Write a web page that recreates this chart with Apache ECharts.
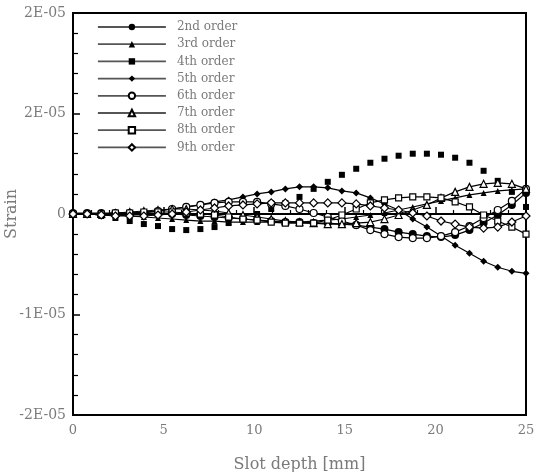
<!DOCTYPE html>
<html>
<head>
<meta charset="utf-8">
<script src="https://cdn.jsdelivr.net/npm/echarts@6/dist/echarts.min.js"></script>
<style>html,body{margin:0;padding:0;background:#fff}#c{width:540px;height:472px}</style>
</head>
<body>
<div id="c"></div>
<script>
// Slot depth [mm]
var depth = [0, 0.78, 1.56, 2.34, 3.13, 3.91, 4.69, 5.47, 6.25, 7.03, 7.81, 8.59, 9.38, 10.16, 10.94, 11.72, 12.5, 13.28, 14.06, 14.84, 15.63, 16.41, 17.19, 17.97, 18.75, 19.53, 20.31, 21.09, 21.88, 22.66, 23.44, 24.22, 25];
// Strain values in units of 1E-05
var order2 = [0.01,0.01,0.01,0.01,0.01,0.01,0.00,0.00,-0.01,-0.02,-0.03,-0.04,-0.05,-0.06,-0.07,-0.08,-0.08,-0.09,-0.09,-0.10,-0.11,-0.13,-0.15,-0.18,-0.20,-0.22,-0.23,-0.21,-0.16,-0.09,-0.01,0.09,0.21];
var order3 = [0,0,-0.01,-0.01,-0.02,-0.03,-0.04,-0.05,-0.06,-0.07,-0.07,-0.08,-0.08,-0.08,-0.08,-0.08,-0.08,-0.07,-0.06,-0.05,-0.03,-0.01,0.01,0.04,0.07,0.10,0.13,0.16,0.19,0.21,0.23,0.24,0.25];
var order4 = [0,-0.01,-0.02,-0.04,-0.07,-0.10,-0.12,-0.15,-0.16,-0.15,-0.13,-0.09,-0.05,0.00,0.05,0.11,0.17,0.25,0.32,0.39,0.45,0.51,0.55,0.58,0.60,0.60,0.59,0.56,0.51,0.43,0.33,0.22,0.07];
var order5 = [0,0,0,0,0.01,0.02,0.03,0.05,0.07,0.09,0.12,0.14,0.17,0.20,0.22,0.25,0.27,0.27,0.26,0.23,0.21,0.16,0.10,0.04,-0.05,-0.13,-0.22,-0.31,-0.39,-0.47,-0.53,-0.57,-0.59];
var order6 = [0,0,-0.01,-0.01,0,0.01,0.03,0.05,0.07,0.09,0.11,0.12,0.12,0.12,0.10,0.08,0.05,0.01,-0.03,-0.07,-0.11,-0.16,-0.20,-0.23,-0.24,-0.24,-0.22,-0.18,-0.12,-0.04,0.04,0.13,0.25];
var order7 = [0,0,0,0.01,0.02,0.03,0.04,0.05,0.05,0.04,0.03,0.01,-0.01,-0.03,-0.05,-0.07,-0.08,-0.09,-0.10,-0.10,-0.09,-0.08,-0.05,-0.01,0.04,0.09,0.16,0.22,0.27,0.30,0.31,0.30,0.25];
var order8 = [0,0,0,0.01,0.01,0.02,0.02,0.02,0.01,0,-0.01,-0.03,-0.05,-0.06,-0.08,-0.09,-0.09,-0.09,-0.06,-0.01,0.05,0.11,0.14,0.16,0.17,0.17,0.16,0.12,0.07,-0.01,-0.07,-0.13,-0.20];
var order9 = [0,0,-0.01,-0.02,-0.02,-0.02,-0.01,0,0.02,0.04,0.06,0.08,0.09,0.10,0.11,0.11,0.11,0.11,0.11,0.11,0.10,0.08,0.06,0.04,0.01,-0.02,-0.07,-0.10,-0.13,-0.14,-0.13,-0.08,-0.02];
var seriesNames = ['2nd order','3rd order','4th order','5th order','6th order','7th order','8th order','9th order'];
var yTickLabels = ['-2E-05','-1E-05','0','2E-05','2E-05'];
var xTickLabels = ['0','5','10','15','20','25'];

var txt = '#7a7a7a';
var font = 'DejaVu Serif';
function pts(arr){ return depth.map(function(x,i){ return [x, arr[i]]; }); }
var defs = [
  {d: order2, sym: 'circle', size: 8, fill: '#000', line: true},
  {d: order3, sym: 'triangle', size: 6, fill: '#000', line: true},
  {d: order4, sym: 'rect', size: 6, fill: '#000', line: false},
  {d: order5, sym: 'diamond', size: 7, fill: '#000', line: true},
  {d: order6, sym: 'circle', size: 7, fill: '#fff', line: true},
  {d: order7, sym: 'triangle', size: 7, fill: '#fff', line: true},
  {d: order8, sym: 'rect', size: 6, fill: '#fff', line: true},
  {d: order9, sym: 'diamond', size: 8, fill: '#fff', line: true}
];
var series = defs.map(function(s, k){
  return {
    name: seriesNames[k], type: 'line', data: pts(s.d),
    symbol: s.sym, symbolSize: s.size, showAllSymbol: true,
    itemStyle: {color: s.fill, borderColor: '#000', borderWidth: s.fill === '#fff' ? 1.2 : 0},
    lineStyle: {color: '#000', width: s.line ? 1.2 : 0, opacity: s.line ? 1 : 0},
    animation: false, z: 3 + k
  };
});
var chart = echarts.init(document.getElementById('c'), null, {renderer: 'canvas'});
chart.setOption({
  animation: false,
  backgroundColor: '#fff',
  grid: {left: 73, right: 14, top: 13, bottom: 57, show: true, borderColor: '#000', borderWidth: 2,
    containLabel: false, outerBoundsMode: 'none'},
  legend: {
    orient: 'vertical', left: 97, top: 21, padding: 0, itemWidth: 68, itemHeight: 8, itemGap: 5.2,
    textStyle: {fontFamily: font, fontSize: 12, color: txt, padding: [0,0,0,6]},
    data: seriesNames.map(function(n){ return {name: n, lineStyle: {color: '#555', width: 1.8, opacity: 1}}; })
  },
  xAxis: {
    type: 'value', min: 0, max: 25, interval: 5,
    name: 'Slot depth [mm]', nameLocation: 'middle', nameGap: 42, nameMoveOverlap: false,
    nameTextStyle: {fontFamily: font, fontSize: 16, color: txt},
    axisLine: {lineStyle: {color: '#000', width: 2}},
    axisTick: {inside: true, length: 7, lineStyle: {color: '#000', width: 1.5}},
    minorTick: {show: true, splitNumber: 5, length: 4, lineStyle: {color: '#000', width: 1.2}},
    splitLine: {show: false},
    axisLabel: {fontFamily: font, fontSize: 13, color: txt, margin: 9,
      formatter: function(v){ return xTickLabels[Math.round(v/5)]; }}
  },
  yAxis: {
    type: 'value', min: -2, max: 2, interval: 1,
    name: 'Strain', nameLocation: 'middle', nameGap: 53, nameRotate: 90, nameMoveOverlap: false,
    nameTextStyle: {fontFamily: font, fontSize: 16, color: txt},
    axisLine: {lineStyle: {color: '#000', width: 2}},
    axisTick: {inside: true, length: 7, lineStyle: {color: '#000', width: 1.5}},
    minorTick: {show: true, splitNumber: 5, length: 5, lineStyle: {color: '#000', width: 1.2}},
    splitLine: {show: false},
    axisLabel: {fontFamily: font, fontSize: 14, color: txt, margin: 7,
      formatter: function(v){ return yTickLabels[Math.round(v + 2)]; }}
  },
  series: series
});
</script>
</body>
</html>
